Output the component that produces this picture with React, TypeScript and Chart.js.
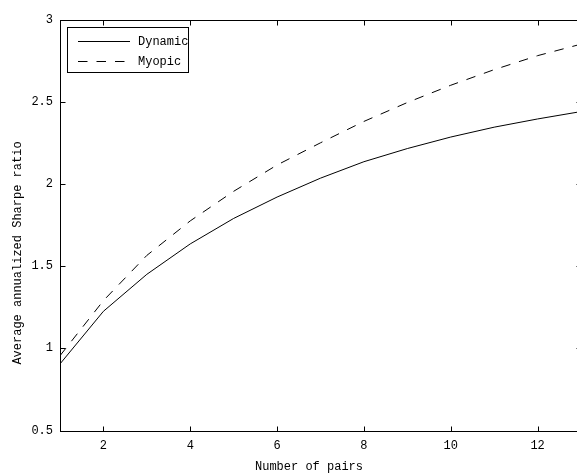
import React, { useEffect, useRef } from "react";
import { Chart, registerables } from "chart.js";

Chart.register(...registerables);

const PAIRS = [1, 2, 3, 4, 5, 6, 7, 8, 9, 10, 11, 12, 13];
const DYNAMIC = [0.905, 1.225, 1.45, 1.635, 1.79, 1.92, 2.035, 2.135, 2.215, 2.285, 2.345, 2.395, 2.44];
const MYOPIC = [0.955, 1.29, 1.565, 1.775, 1.955, 2.115, 2.25, 2.38, 2.495, 2.6, 2.695, 2.78, 2.85];
const X_TICKS = [2, 4, 6, 8, 10, 12];
const Y_TICKS = [0.5, 1, 1.5, 2, 2.5, 3];
const Y_TICK_LABELS = ["0.5", "1", "1.5", "2", "2.5", "3"];
const X_TITLE = "Number of pairs";
const Y_TITLE = "Average annualized Sharpe ratio";

const FONT = "12px 'Liberation Mono', 'DejaVu Sans Mono', monospace";

const framePlugin = {
  id: "matlabFrame",
  afterDraw(chart: any) {
    const { ctx, chartArea } = chart;
    const xs = chart.scales.x;
    const ys = chart.scales.y;
    ctx.save();
    ctx.strokeStyle = "#000";
    ctx.lineWidth = 1;
    ctx.setLineDash([]);
    const L = Math.round(chartArea.left) + 0.5;
    const T = Math.round(chartArea.top) + 0.5;
    const B = Math.round(chartArea.bottom) + 0.5;
    const R = Math.round(chartArea.right) + 0.5;
    ctx.strokeRect(L, T, R - L, B - T);
    const tl = 5;
    ctx.beginPath();
    X_TICKS.forEach((v) => {
      const px = Math.round(xs.getPixelForValue(v)) + 0.5;
      ctx.moveTo(px, B);
      ctx.lineTo(px, B - tl);
      ctx.moveTo(px, T);
      ctx.lineTo(px, T + tl);
    });
    Y_TICKS.forEach((v) => {
      const py = Math.round(ys.getPixelForValue(v)) + 0.5;
      ctx.moveTo(L, py);
      ctx.lineTo(L + tl, py);
      ctx.moveTo(R, py);
      ctx.lineTo(R - tl, py);
    });
    ctx.stroke();

    // axis titles
    ctx.fillStyle = "#000";
    ctx.font = FONT;
    ctx.textAlign = "center";
    ctx.textBaseline = "middle";
    ctx.fillText(X_TITLE, 309, 467);
    ctx.save();
    ctx.translate(17.5, 253);
    ctx.rotate(-Math.PI / 2);
    ctx.fillText(Y_TITLE, 0, 0);
    ctx.restore();

    // legend
    ctx.fillStyle = "#fff";
    ctx.fillRect(67.5, 27.5, 121, 45);
    ctx.strokeRect(67.5, 27.5, 121, 45);
    const rows = [41.5, 61.5];
    chart.data.datasets.forEach((ds: any, i: number) => {
      const y = rows[i];
      ctx.beginPath();
      ctx.setLineDash(ds.borderDash || []);
      ctx.moveTo(78, y);
      ctx.lineTo(130, y);
      ctx.stroke();
      ctx.setLineDash([]);
      ctx.fillStyle = "#000";
      ctx.textAlign = "left";
      ctx.fillText(ds.label, 138, y);
    });
    ctx.restore();
  },
};

export default function App() {
  const ref = useRef<HTMLCanvasElement>(null);
  useEffect(() => {
    if (!ref.current) return;
    const chart = new Chart(ref.current, {
      type: "line",
      data: {
        labels: PAIRS,
        datasets: [
          {
            label: "Dynamic",
            data: PAIRS.map((x, i) => ({ x, y: DYNAMIC[i] })),
            borderColor: "#000",
            borderWidth: 1,
            pointRadius: 0,
            tension: 0,
            fill: false,
          },
          {
            label: "Myopic",
            data: PAIRS.map((x, i) => ({ x, y: MYOPIC[i] })),
            borderColor: "#000",
            borderWidth: 1,
            borderDash: [9.5, 9],
            pointRadius: 0,
            tension: 0,
            fill: false,
          },
        ],
      },
      options: {
        responsive: false,
        animation: false,
        devicePixelRatio: 1,
        layout: { padding: { top: 19.5, right: 19, left: 0, bottom: 0 } },
        plugins: { legend: { display: false }, tooltip: { enabled: false } },
        scales: {
          x: {
            type: "linear",
            min: 1,
            max: 13,
            afterBuildTicks: (s: any) => {
              s.ticks = X_TICKS.map((v) => ({ value: v }));
            },
            afterFit: (s: any) => {
              s.height = 44.5;
            },
            grid: { display: false, drawTicks: false },
            border: { display: false },
            ticks: {
              padding: 8,
              color: "#000",
              font: { family: "'Liberation Mono', monospace", size: 12 },
              maxRotation: 0,
              autoSkip: false,
              callback: (v: any) => String(v),
            },
          },
          y: {
            type: "linear",
            min: 0.5,
            max: 3,
            afterBuildTicks: (s: any) => {
              s.ticks = Y_TICKS.map((v) => ({ value: v }));
            },
            afterFit: (s: any) => {
              s.width = 60;
            },
            grid: { display: false, drawTicks: false },
            border: { display: false },
            ticks: {
              padding: 7,
              color: "#000",
              font: { family: "'Liberation Mono', monospace", size: 12 },
              autoSkip: false,
              callback: (v: any) => {
                const i = Y_TICKS.indexOf(Number(v));
                return i >= 0 ? Y_TICK_LABELS[i] : String(v);
              },
            },
          },
        },
      },
      plugins: [framePlugin],
    });
    return () => chart.destroy();
  }, []);
  return (
    <div
      style={{
        position: "absolute",
        left: 0,
        top: 0,
        width: 577,
        height: 475,
        overflow: "hidden",
        background: "#fff",
      }}
    >
      <canvas ref={ref} width={600} height={475} style={{ display: "block", width: 600, height: 475 }} />
    </div>
  );
}
